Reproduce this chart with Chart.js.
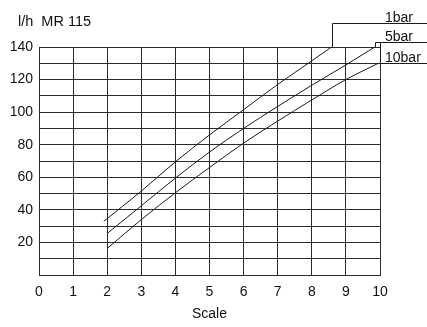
<!DOCTYPE html>
<html>
<head>
<meta charset="utf-8">
<script src="https://cdn.jsdelivr.net/npm/chart.js@4.4.0/dist/chart.umd.min.js"></script>
<style>
  html, body { margin: 0; padding: 0; background: #fff; }
  #wrap { width: 427px; height: 327px; }
</style>
</head>
<body>
<div id="wrap"><canvas id="myChart" width="427" height="327"></canvas></div>
<script>
'use strict';

// values
let scale1 = [1.9, 3, 4, 5, 6, 7, 8, 8.58];
let flow1 = [33, 51.5, 69.5, 86, 101.5, 117, 131.5, 140];
let scale5 = [2, 3, 4, 5, 6, 7, 8, 9, 9.85];
let flow5 = [25.5, 42.5, 59.5, 75.5, 90, 103.5, 116.5, 129, 140];
let scale10 = [2, 3, 4, 5, 6, 7, 8, 9, 9.95];
let flow10 = [16.3, 34, 50.5, 66, 81, 94.5, 107.5, 120, 130];

let seriesNames = ['1bar', '5bar', '10bar'];
// height (in l/h) of the leader line for each label
let leaderLevels = [155, 142.8, 130];

let xMin = 0, xMax = 10, xStep = 1;
let yMin = 0, yMax = 140, yStep = 10;
let yLabelStep = 20;

let titleText = 'l/h  MR 115';
let xTitle = 'Scale';

function toPoints(xs, ys) {
    let pts = [];
    for (let i = 0; i < xs.length; i++) {
        pts.push({ x: xs[i], y: ys[i] });
    }
    return pts;
}

let allSeries = [toPoints(scale1, flow1), toPoints(scale5, flow5), toPoints(scale10, flow10)];

let lineColor = '#1a1a1a';
let gridColor = '#2a2a2a';
let font = 'Arial, "Liberation Sans", sans-serif';

// leader lines + labels at the top right
let labelPlugin = {
    id: 'labels',
    afterDraw(chart) {
        let ctx = chart.ctx;
        let xs = chart.scales.x;
        let ys = chart.scales.y;
        ctx.save();
        ctx.strokeStyle = lineColor;
        ctx.lineWidth = 1;
        ctx.fillStyle = '#111';
        ctx.font = '14px ' + font;
        ctx.textBaseline = 'alphabetic';
        for (let i = 0; i < allSeries.length; i++) {
            let pts = allSeries[i];
            let last = pts[pts.length - 1];
            let px = Math.round(xs.getPixelForValue(last.x)) + 0.5;
            let py = ys.getPixelForValue(last.y);
            let ly = Math.round(ys.getPixelForValue(leaderLevels[i])) + 0.5;
            ctx.beginPath();
            if (i === 2) {
                // 10bar: along the right border
                let bx = Math.round(xs.getPixelForValue(xMax)) + 0.5;
                ctx.moveTo(bx, Math.round(ys.getPixelForValue(leaderLevels[1])) + 0.5);
                ctx.lineTo(bx, ly);
                ctx.lineTo(chart.width, ly);
            } else {
                ctx.moveTo(px, py);
                ctx.lineTo(px, ly);
                ctx.lineTo(chart.width, ly);
            }
            ctx.stroke();
            ctx.fillText(seriesNames[i], xs.getPixelForValue(xMax) + 5, ly - 2);
        }
        ctx.font = '14.5px ' + font;
        ctx.textBaseline = 'middle';
        ctx.fillText(titleText, 18, 22);
        ctx.restore();
    }
};

let ctx = document.getElementById('myChart').getContext('2d');
let myChart = new Chart(ctx, {
    type: 'line',
    data: {
        datasets: allSeries.map(function (pts, i) {
            return {
                label: seriesNames[i],
                data: pts,
                borderColor: lineColor,
                borderWidth: 1,
                pointRadius: 0,
                cubicInterpolationMode: 'monotone',
                fill: false
            };
        })
    },
    options: {
        responsive: false,
        animation: false,
        layout: { padding: { top: 47, right: 47, left: 0, bottom: 0 } },
        plugins: {
            legend: { display: false },
            tooltip: { enabled: false }
        },
        scales: {
            x: {
                type: 'linear',
                min: xMin,
                max: xMax,
                afterFit: function (s) { s.height = 52; },
                ticks: {
                    stepSize: xStep,
                    autoSkip: false,
                    color: '#111',
                    padding: 9,
                    font: { size: 14, family: font }
                },
                grid: { color: gridColor, lineWidth: 1, drawTicks: false },
                border: { color: gridColor, width: 1 },
                title: {
                    display: true,
                    text: xTitle,
                    color: '#111',
                    padding: { top: 0, bottom: 4 },
                    font: { size: 14, family: font }
                }
            },
            y: {
                min: yMin,
                max: yMax,
                afterFit: function (s) { s.width = 39; },
                ticks: {
                    stepSize: yStep,
                    autoSkip: false,
                    color: '#111',
                    padding: 6,
                    font: { size: 14, family: font },
                    callback: function (v) {
                        if (v > 0 && v % yLabelStep === 0) return v;
                        return '';
                    }
                },
                grid: { color: gridColor, lineWidth: 1, drawTicks: false },
                border: { color: gridColor, width: 1 }
            }
        }
    },
    plugins: [labelPlugin]
});
</script>
</body>
</html>
